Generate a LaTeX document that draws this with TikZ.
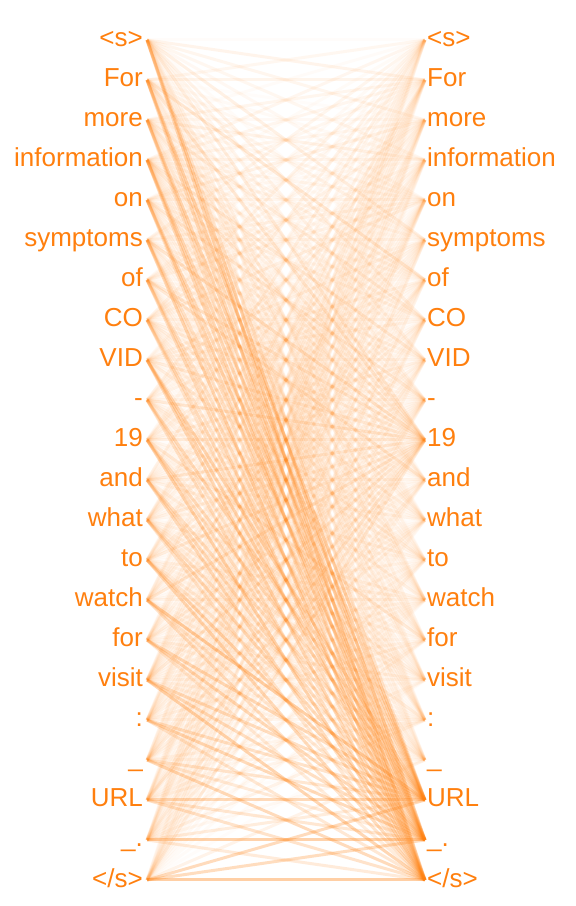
\documentclass[tikz,border=0pt]{standalone}
\usepackage{fontspec}
\setmainfont{Liberation Sans}
\usetikzlibrary{positioning}
\definecolor{cToken}{RGB}{255,127,14}
\tikzset{
	tokL/.style={anchor=base east, inner sep=0pt, text=cToken},
	tokR/.style={anchor=base west, inner sep=0pt, text=cToken},
	attn/.style={draw=cToken, line width=3pt},
}

\begin{document}
\begin{tikzpicture}[x=1pt, y=1pt, font=\fontsize{26}{30}\selectfont]
	\useasboundingbox (0,0) rectangle (576,906);
	% token columns
	\foreach \tok [count=\k from 0] in {<s>, For, more, information, on, symptoms, of, CO, VID, -, 19, and, what, to, watch, for, visit, :, \_, URL, \_., </s>} {
		\coordinate (la\k) at (147,{866-40*\k});
		\coordinate (ra\k) at (425,{866-40*\k});
		\node[tokL] (l\k) at (143,{859-40*\k}) {\tok};
		\node[tokR] (r\k) at (427,{859-40*\k}) {\tok};
	}
	% attention weights
	\foreach \i in {0,...,21} {
		\foreach \j in {0,...,21} {
			\pgfmathsetmacro{\r}{mod(\i*7+\j*11+\i*\j*5,13)/12}
			\pgfmathsetmacro{\w}{min(0.4, 0.02+0.07*\r+(\j>=19)*(0.12+0.08*\r)+(\j==10)*0.07+((\j-\i)==5)*0.07+(\i>=19)*(\i==\j)*0.12)}
			\draw[attn, draw opacity=\w] (la\i) -- (ra\j);
		}
	}
\end{tikzpicture}
\end{document}
